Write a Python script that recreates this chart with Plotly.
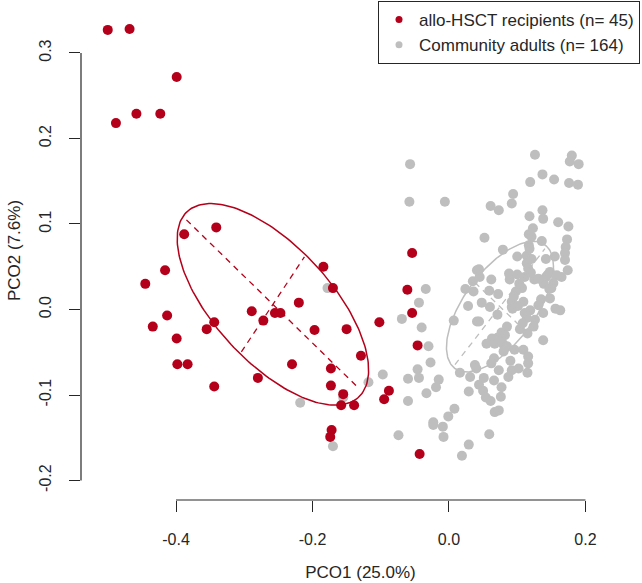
import numpy as np
import plotly.graph_objects as go

# ---- data ----
hsct_x = [-0.500, -0.468, -0.399, -0.458, -0.423, -0.488, -0.388, -0.341, -0.416, -0.445,
          -0.413, -0.344, -0.289, -0.255, -0.247, -0.272, -0.220, -0.434, -0.355, -0.399,
          -0.398, -0.383, -0.230, -0.280, -0.344, -0.184, -0.170, -0.197, -0.150, -0.102,
          -0.054, -0.061, -0.054, -0.046, -0.129, -0.173, -0.173, -0.155, -0.158, -0.139,
          -0.088, -0.095, -0.172, -0.174, -0.043]
hsct_y = [0.327, 0.328, 0.272, 0.229, 0.229, 0.218, 0.088, 0.096, 0.046, 0.030,
          -0.007, -0.015, -0.002, -0.004, -0.004, -0.013, 0.008, -0.020, -0.023, -0.034,
          -0.064, -0.064, -0.064, -0.080, -0.090, 0.050, 0.025, -0.024, -0.023, -0.015,
          0.066, 0.023, -0.004, -0.042, -0.054, -0.069, -0.089, -0.099, -0.112, -0.112,
          -0.095, -0.105, -0.141, -0.149, -0.169]

comm_x = [-0.178, -0.034, -0.044, -0.069, -0.040, -0.030, -0.027, -0.046, -0.060, -0.044,
          -0.015, -0.097, -0.118, -0.019, -0.033, -0.060, -0.155, -0.218, 0.008, -0.001,
          -0.023, -0.009, -0.074, -0.008, 0.029, 0.019, -0.170, 0.007, 0.028, 0.041,
          0.035, 0.024, 0.036, 0.041, 0.038, 0.016, 0.031, 0.029, 0.044, -0.057,
          -0.058, -0.006, 0.126, 0.180, 0.177, 0.190, 0.119, 0.137, 0.154, 0.176,
          0.189, 0.094, 0.092, 0.061, 0.073, 0.118, 0.137, 0.138, 0.160, 0.175,
          0.052, 0.117, 0.121, 0.136, 0.117, 0.173, 0.171, 0.170, 0.079, 0.100,
          0.114, 0.114, 0.142, 0.155, 0.116, 0.044, 0.148, 0.158, 0.174, 0.165,
          0.142, 0.153, 0.150, 0.088, 0.100, 0.111, 0.125, 0.089, 0.107, 0.098,
          0.062, 0.045, 0.059, 0.072, 0.048, 0.060, 0.092, 0.109, 0.092, 0.148,
          0.156, 0.163, 0.119, 0.131, 0.071, 0.111, 0.138, 0.093, 0.114, 0.126,
          0.124, 0.104, 0.115, 0.085, 0.077, 0.071, 0.063, 0.055, 0.067, 0.079,
          0.138, 0.096, 0.109, 0.080, 0.066, 0.116, 0.116, 0.040, 0.102, 0.092,
          0.073, 0.115, 0.087, 0.066, 0.051, 0.044, 0.077, 0.050, 0.054, 0.061,
          0.076, -0.023, 0.067, 0.073, 0.059,
          0.145, 0.139, 0.131, 0.120, 0.103, 0.095, 0.101, 0.082, 0.073, 0.085,
          0.118, 0.121, 0.123, 0.135, 0.147, 0.062, 0.090, 0.108, 0.170]
comm_y = [0.025, 0.024, 0.008, -0.011, -0.021, -0.043, -0.062, -0.070, -0.081, -0.080,
          -0.082, -0.076, -0.085, -0.091, -0.098, -0.107, -0.103, -0.109, -0.116, -0.125,
          -0.132, -0.137, -0.147, -0.149, -0.158, -0.171, -0.160, -0.013, 0.004, 0.046,
          0.033, 0.024, 0.021, -0.014, -0.065, -0.074, -0.079, -0.096, -0.088, 0.170,
          0.126, 0.126, 0.181, 0.180, 0.173, 0.170, 0.149, 0.158, 0.152, 0.148,
          0.146, 0.135, 0.124, 0.121, 0.116, 0.109, 0.116, 0.106, 0.102, 0.097,
          0.084, 0.088, 0.085, 0.080, 0.075, 0.082, 0.073, 0.066, 0.070, 0.062,
          0.063, 0.054, 0.059, 0.062, 0.048, 0.047, 0.044, 0.040, 0.046, 0.038,
          0.038, 0.031, 0.025, 0.042, 0.041, 0.038, 0.035, 0.035, 0.025, 0.021,
          0.035, 0.038, 0.022, 0.018, 0.008, 0.003, 0.009, 0.009, 0.003, 0.013,
          0.001, -0.001, -0.001, 0.005, -0.006, -0.004, -0.004, 0.001, -0.010, -0.012,
          -0.020, -0.023, -0.028, -0.020, -0.027, -0.033, -0.034, -0.040, -0.040, -0.040,
          -0.036, -0.047, -0.047, -0.049, -0.057, -0.055, -0.063, -0.069, -0.069, -0.071,
          -0.071, -0.074, -0.079, -0.083, -0.080, -0.014, -0.091, -0.095, -0.103, -0.107,
          -0.102, -0.135, -0.120, -0.118, -0.146,
          0.041, 0.030, 0.036, 0.043, 0.030, 0.015, 0.004, -0.030, -0.037, -0.043,
          0.071, 0.059, 0.095, 0.012, 0.024, -0.063, -0.060, -0.016, 0.058]

# ellipse parameters: centre and the two (dashed) half-axis vectors
hsct_center = [-0.258, 0.006]
hsct_axis1 = [0.1267, -0.0988]
hsct_axis2 = [0.0462, 0.0556]
comm_center = [0.0747, 0.0033]
comm_axis1 = [0.0659, 0.0678]
comm_axis2 = [0.0366, -0.0281]
ellipse_scale = 1.04

x_ticks = [-0.4, -0.2, 0.0, 0.2]
y_ticks = [-0.2, -0.1, 0.0, 0.1, 0.2, 0.3]
x_tick_labels = ["-0.4", "-0.2", "0.0", "0.2"]
y_tick_labels = ["-0.2", "-0.1", "0.0", "0.1", "0.2", "0.3"]

series_names = ["allo-HSCT recipients (n= 45)", "Community adults (n= 164)"]

RED = "#B4001A"
GRAY = "#BEBEBE"
AXC = "#262626"
FONT = "Liberation Sans, Arial, sans-serif"

fig = go.Figure()


def add_ellipse(center, a1, a2, color):
    t = np.linspace(0, 2 * np.pi, 200)
    cx, cy = center
    ex = cx + ellipse_scale * (a1[0] * np.cos(t) + a2[0] * np.sin(t))
    ey = cy + ellipse_scale * (a1[1] * np.cos(t) + a2[1] * np.sin(t))
    fig.add_trace(go.Scatter(x=ex, y=ey, mode="lines", line=dict(color=color, width=1.5),
                             showlegend=False, hoverinfo="skip"))
    for a in (a1, a2):
        fig.add_trace(go.Scatter(x=[cx - a[0], cx + a[0]], y=[cy - a[1], cy + a[1]],
                                 mode="lines", line=dict(color=color, width=1.3, dash="6px,5px"),
                                 showlegend=False, hoverinfo="skip"))


fig.add_trace(go.Scatter(x=comm_x, y=comm_y, mode="markers",
                         marker=dict(color=GRAY, size=10, line=dict(width=0)),
                         name=series_names[1], showlegend=False))
fig.add_trace(go.Scatter(x=hsct_x, y=hsct_y, mode="markers",
                         marker=dict(color=RED, size=10, line=dict(width=0)),
                         name=series_names[0], showlegend=False))
add_ellipse(hsct_center, hsct_axis1, hsct_axis2, RED)
add_ellipse(comm_center, comm_axis1, comm_axis2, GRAY)

# legend entries (small R-style legend dots)
for nm, col in zip(series_names, [RED, GRAY]):
    fig.add_trace(go.Scatter(x=[None], y=[None], mode="markers",
                             marker=dict(color=col, size=7, line=dict(width=0)),
                             name=nm, showlegend=True))

# R-style axis lines spanning only the tick range
fig.add_shape(type="line", xref="x", yref="paper", x0=x_ticks[0], x1=x_ticks[-1], y0=0, y1=0,
              line=dict(color=AXC, width=1.2))
fig.add_shape(type="line", xref="paper", yref="y", x0=0, x1=0, y0=y_ticks[0], y1=y_ticks[-1],
              line=dict(color=AXC, width=1.2))

fig.update_layout(
    width=642, height=583,
    margin=dict(l=81, r=2, t=1, b=83),
    paper_bgcolor="white", plot_bgcolor="white",
    font=dict(family=FONT, size=16, color=AXC),
    showlegend=True,
    legend=dict(x=1, y=1, xanchor="right", yanchor="top", bgcolor="white",
                bordercolor=AXC, borderwidth=1, font=dict(size=17, color=AXC),
                itemwidth=30, tracegroupgap=0),
    xaxis=dict(range=[-0.5392, 0.2799], showgrid=False, zeroline=False, showline=False,
               tickmode="array", tickvals=x_ticks, ticktext=x_tick_labels,
               ticks="outside", ticklen=11, tickwidth=1.2, tickcolor=AXC,
               ticklabelstandoff=14,
               title=dict(text="PCO1 (25.0%)", standoff=18, font=dict(size=17))),
    yaxis=dict(range=[-0.2228, 0.3608], showgrid=False, zeroline=False, showline=False,
               tickmode="array", tickvals=y_ticks, ticktext=y_tick_labels,
               ticks="outside", ticklen=11, tickwidth=1.2, tickcolor=AXC,
               tickangle=-90, ticklabelstandoff=12,
               title=dict(text="PCO2 (7.6%)", standoff=11, font=dict(size=17))),
)

fig.write_html("out.html", config={"displayModeBar": False},
               post_script="document.body.style.margin='0px';")
